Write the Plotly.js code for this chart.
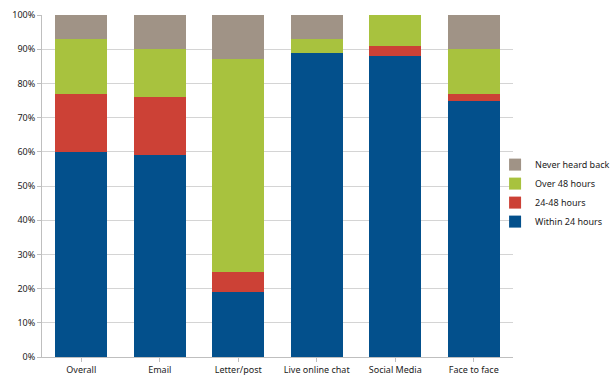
<!DOCTYPE html>
<html>
<head>
<meta charset="utf-8">
<script src="https://cdn.plot.ly/plotly-3.0.1.min.js"></script>
<style>html,body{margin:0;padding:0;background:#fff;}#chart{width:615px;height:380px;}</style>
</head>
<body>
<div id="chart"></div>
<script>
var categories = ["Overall", "Email", "Letter/post", "Live online chat", "Social Media", "Face to face"];
var within24 = [60, 59, 19, 89, 88, 75];
var h24to48 = [17, 17, 6, 0, 3, 2];
var over48 = [16, 14, 62, 4, 9, 13];
var neverHeard = [7, 10, 13, 7, 0, 10];
var seriesNames = ["Within 24 hours", "24-48 hours", "Over 48 hours", "Never heard back"];
var seriesColors = ["#03508C", "#CC4136", "#A8C23E", "#A09386"];
var yTickVals = [0, 10, 20, 30, 40, 50, 60, 70, 80, 90, 100];
var yTickText = ["0%", "10%", "20%", "30%", "40%", "50%", "60%", "70%", "80%", "90%", "100%"];

var seriesValues = [within24, h24to48, over48, neverHeard];
var traces = seriesValues.map(function (vals, i) {
  return {
    type: "bar",
    x: categories,
    y: vals,
    name: seriesNames[i],
    marker: {color: seriesColors[i], line: {width: 0}},
    hoverinfo: "x+y+name"
  };
});

var layout = {
  width: 615,
  height: 380,
  margin: {l: 42, r: 102, t: 15, b: 23, autoexpand: false},
  barmode: "stack",
  bargap: 0.34,
  paper_bgcolor: "#fff",
  plot_bgcolor: "#fff",
  font: {family: "Noto Sans, Open Sans, sans-serif", size: 9, color: "#222"},
  xaxis: {
    showgrid: false,
    showline: true,
    linecolor: "#bfbfbf",
    linewidth: 1,
    ticks: "outside",
    ticklen: 4,
    tickcolor: "#bfbfbf",
    tickfont: {size: 9, color: "#222"},
    automargin: false,
    fixedrange: true
  },
  yaxis: {
    range: [0, 100],
    tickvals: yTickVals,
    ticktext: yTickText,
    showgrid: true,
    gridcolor: "#d4d4d4",
    gridwidth: 1,
    showline: true,
    linecolor: "#bfbfbf",
    ticks: "outside",
    ticklen: 4,
    tickcolor: "#bfbfbf",
    tickfont: {size: 9, color: "#222"},
    zeroline: false,
    automargin: false,
    fixedrange: true
  },
  legend: {
    xref: "container",
    yref: "container",
    x: 0.805,
    xanchor: "left",
    y: 0.605,
    yanchor: "top",
    traceorder: "reversed",
    font: {size: 9, color: "#222"},
    itemwidth: 30,
    tracegroupgap: 0,
    bgcolor: "rgba(0,0,0,0)"
  },
  showlegend: true
};

Plotly.newPlot("chart", traces, layout, {displayModeBar: false, staticPlot: true});
</script>
</body>
</html>
